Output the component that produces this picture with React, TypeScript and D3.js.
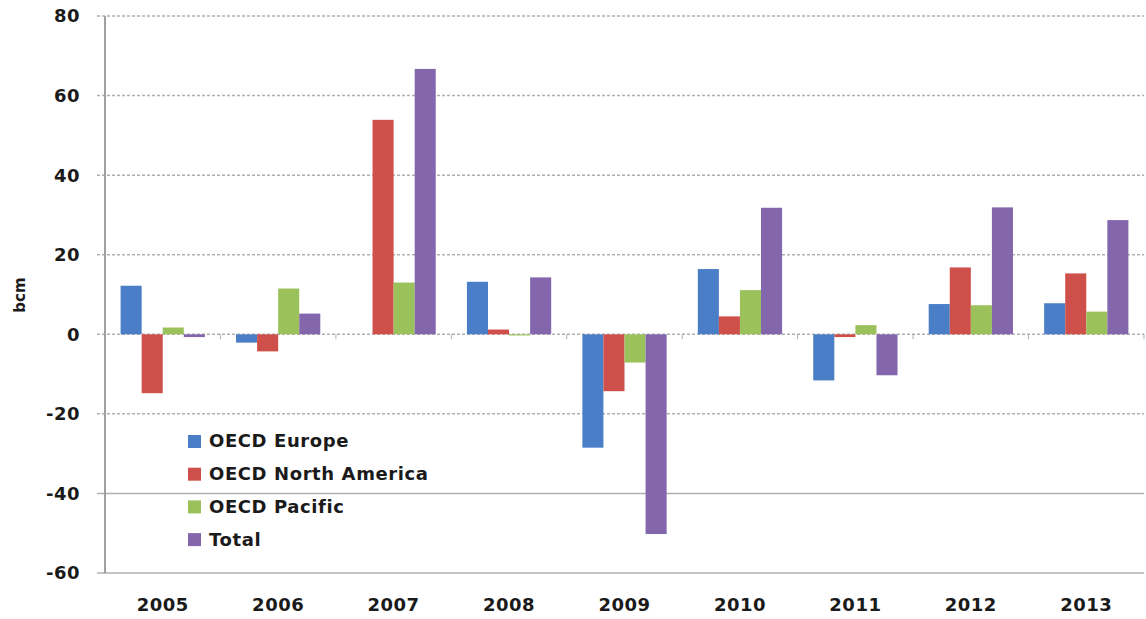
import React from 'react';
import * as d3 from 'd3';

const years = ['2005', '2006', '2007', '2008', '2009', '2010', '2011', '2012', '2013'];
const seriesNames = ['OECD Europe', 'OECD North America', 'OECD Pacific', 'Total'];
const europe = [12.2, -2.1, 0, 13.2, -28.5, 16.4, -11.6, 7.6, 7.8];
const northAmerica = [-14.8, -4.3, 53.9, 1.2, -14.3, 4.5, -0.7, 16.8, 15.3];
const pacific = [1.7, 11.5, 13.0, -0.3, -7.1, 11.1, 2.3, 7.3, 5.7];
const total = [-0.7, 5.2, 66.7, 14.3, -50.2, 31.8, -10.3, 31.9, 28.7];
const colors = ['#4a7ec6', '#cf4f4b', '#9bc25a', '#8466ac'];
const yTicks = [80, 60, 40, 20, 0, -20, -40, -60];

const width = 1146;
const height = 619;
const left = 105;
const right = 1144;
const top = 16;
const bottom = 573;

const font = '"DejaVu Sans", Verdana, sans-serif';

const App = () => {
  const series = [europe, northAmerica, pacific, total];

  const x0 = d3.scaleBand().domain(years).range([left, right]).padding(0);
  const x1 = d3.scaleBand()
    .domain(seriesNames)
    .range([0, x0.bandwidth()])
    .paddingInner(0)
    .paddingOuter(0.74);
  const y = d3.scaleLinear().domain([-60, 80]).range([bottom, top]);

  return (
    <svg width={width} height={height} style={{ position: 'absolute', left: 0, top: 0 }}>
      <rect width={width} height={height} fill="#fff" />
      {/* grid */}
      {yTicks.map(t => (
        <line
          key={t}
          x1={97}
          x2={right}
          y1={y(t)}
          y2={y(t)}
          stroke="#b0b0b0"
          strokeWidth={1.5}
          strokeDasharray={t <= -40 ? undefined : '3,2'}
        />
      ))}
      {/* bars */}
      {years.map((yr, i) => (
        <g key={yr} transform={`translate(${x0(yr)},0)`}>
          {series.map((s, j) => {
            const v = s[i];
            if (v === 0) return null;
            return (
              <rect
                key={j}
                x={x1(seriesNames[j])}
                y={y(Math.max(0, v))}
                width={x1.bandwidth()}
                height={Math.abs(y(v) - y(0))}
                fill={colors[j]}
              />
            );
          })}
        </g>
      ))}
      {/* category ticks */}
      {years.map((yr, i) => (
        <line
          key={yr}
          x1={x0(yr) + x0.bandwidth()}
          x2={x0(yr) + x0.bandwidth()}
          y1={y(0)}
          y2={y(0) + 5}
          stroke="#b0b0b0"
          strokeWidth={1}
        />
      ))}
      {/* y axis */}
      <line x1={left} x2={left} y1={top} y2={bottom} stroke="#a0a0a0" strokeWidth={2} />
      {yTicks.map(t => (
        <text
          key={t}
          x={80}
          y={y(t)}
          dy="0.36em"
          textAnchor="end"
          fontFamily={font}
          fontWeight="bold"
          fontSize={18}
          letterSpacing={0.5}
          fill="#1a1a1a"
        >
          {t}
        </text>
      ))}
      {years.map(yr => (
        <text
          key={yr}
          x={x0(yr) + x0.bandwidth() / 2}
          y={611}
          textAnchor="middle"
          fontFamily={font}
          fontWeight="bold"
          fontSize={18}
          letterSpacing={0.5}
          fill="#1a1a1a"
        >
          {yr}
        </text>
      ))}
      <text
        transform="translate(25,295) rotate(-90)"
        textAnchor="middle"
        fontFamily={font}
        fontWeight="bold"
        fontSize={15}
        fill="#1a1a1a"
      >
        bcm
      </text>
      {/* legend */}
      {seriesNames.map((name, i) => (
        <g key={name} transform={`translate(188,${441 + i * 32.7})`}>
          <rect x={0} y={-6} width={13} height={13} fill={colors[i]} />
          <text
            x={21}
            y={0}
            dy="0.36em"
            fontFamily={font}
            fontWeight="bold"
            fontSize={18}
            letterSpacing={0.6}
            fill="#1a1a1a"
          >
            {name}
          </text>
        </g>
      ))}
    </svg>
  );
};

export default App;
